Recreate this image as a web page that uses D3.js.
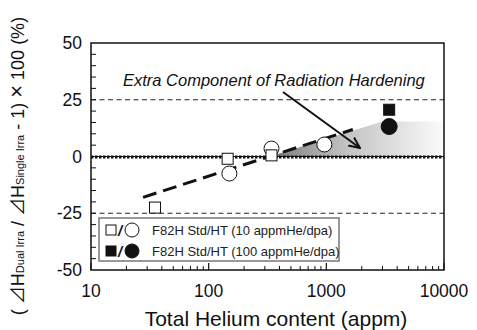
<!DOCTYPE html>
<html>
<head>
<meta charset="utf-8">
<script src="https://cdn.jsdelivr.net/npm/d3@7"></script>
<style>
  body { margin: 0; background: #fff; }
  text { font-family: "Liberation Sans", Arial, sans-serif; fill: #111; }
</style>
</head>
<body>
<script>
// data (x = total He content, appm; y = %)
var stdX = [35, 145, 342];          // open squares, Std, 10 appmHe/dpa
var stdY = [-22.5, -1, 0.5];
var htX = [150, 342, 962];          // open circles, HT, 10 appmHe/dpa
var htY = [-7.5, 3.5, 5.3];
var std100X = [3420];               // filled square, 100 appmHe/dpa
var std100Y = [20.6];
var ht100X = [3420];                // filled circle
var ht100Y = [13.2];
var fitX = [27.7, 1680];            // dashed trend line
var fitY = [-18, 11.9];
var shadeX = [328, 2990, 10000, 10000];   // grey "extra component" wedge
var shadeY = [0, 15.4, 15.4, 0];
var yTicks = [-50, -25, 0, 25, 50];
var xTicks = [10, 100, 1000, 10000];
var legendLabels = ['F82H Std/HT (10 appmHe/dpa)', 'F82H Std/HT (100 appmHe/dpa)'];

var W = 477, H = 330;
var m = {left: 91, right: 33, top: 43, bottom: 60};
var iw = W - m.left - m.right, ih = H - m.top - m.bottom;

var svg = d3.select('body').append('svg')
  .attr('width', W).attr('height', H);

var defs = svg.append('defs');
var grad = defs.append('linearGradient').attr('id', 'shade')
  .attr('x1', '0%').attr('x2', '100%').attr('y1', '0%').attr('y2', '0%');
grad.append('stop').attr('offset', '0%').attr('stop-color', '#7a7a7a');
grad.append('stop').attr('offset', '45%').attr('stop-color', '#c4c4c4');
grad.append('stop').attr('offset', '100%').attr('stop-color', '#fbfbfb');

defs.append('marker').attr('id', 'arr')
  .attr('viewBox', '0 0 12 12').attr('refX', 11).attr('refY', 6)
  .attr('markerWidth', 12).attr('markerHeight', 12)
  .attr('markerUnits', 'userSpaceOnUse')
  .attr('orient', 'auto')
  .append('path').attr('d', 'M0,1 L11,6 L0,11')
  .attr('fill', 'none').attr('stroke', '#111').attr('stroke-width', 2);

var g = svg.append('g').attr('transform', 'translate(' + m.left + ',' + m.top + ')');

var x = d3.scaleLog().domain([10, 10000]).range([0, iw]);
var y = d3.scaleLinear().domain([-50, 50]).range([ih, 0]);

// shaded wedge
var shade = d3.zip(shadeX, shadeY);
g.append('path')
  .attr('d', d3.line().x(function(d) { return x(d[0]); }).y(function(d) { return y(d[1]); })(shade) + 'Z')
  .attr('fill', 'url(#shade)');

// +/-25 dashed reference lines
[25, -25].forEach(function(v) {
  g.append('line').attr('x1', 0).attr('x2', iw).attr('y1', y(v)).attr('y2', y(v))
    .attr('stroke', '#222').attr('stroke-width', 1).attr('stroke-dasharray', '5,3.5');
});

// zero line (dotted, heavy)
g.append('line').attr('x1', 0).attr('x2', iw).attr('y1', y(0)).attr('y2', y(0))
  .attr('stroke', '#111').attr('stroke-width', 1);
g.append('line').attr('x1', 0).attr('x2', iw).attr('y1', y(0) + 0.5).attr('y2', y(0) + 0.5)
  .attr('stroke', '#111').attr('stroke-width', 3).attr('stroke-dasharray', '2.5,1.5');

// trend line
g.append('path')
  .attr('d', d3.line().x(function(d) { return x(d[0]); }).y(function(d) { return y(d[1]); })(d3.zip(fitX, fitY)))
  .attr('stroke', '#111').attr('stroke-width', 3).attr('fill', 'none')
  .attr('stroke-dasharray', '14,7');

// axes ticks (inward)
var xMinor = [];
for (var dec = 10; dec < 10000; dec *= 10) for (var k = 2; k <= 9; k++) xMinor.push(dec * k);
g.selectAll('.xminor').data(xMinor).enter().append('line')
  .attr('x1', function(d) { return x(d); }).attr('x2', function(d) { return x(d); })
  .attr('y1', ih).attr('y2', ih - 4).attr('stroke', '#111').attr('stroke-width', 1);
g.selectAll('.xmajor').data(xTicks).enter().append('line')
  .attr('x1', function(d) { return x(d); }).attr('x2', function(d) { return x(d); })
  .attr('y1', ih).attr('y2', ih - 7).attr('stroke', '#111').attr('stroke-width', 1.2);
g.selectAll('.xlab').data(xTicks).enter().append('text')
  .attr('x', function(d) { return x(d); }).attr('y', ih + 27)
  .attr('text-anchor', 'middle').style('font-size', '17.5px').text(function(d) { return d; });

var yMinor = d3.range(-45, 50, 5);
g.selectAll('.ytick').data(yMinor).enter().append('line')
  .attr('x1', 0).attr('x2', 5).attr('y1', function(d) { return y(d); }).attr('y2', function(d) { return y(d); })
  .attr('stroke', '#111').attr('stroke-width', 1);
g.selectAll('.ylab').data(yTicks).enter().append('text')
  .attr('x', -9).attr('y', function(d) { return y(d) + 6; })
  .attr('text-anchor', 'end').style('font-size', '17.5px').text(function(d) { return d; });

// points
function sq(xs, ys, size, fill) {
  g.selectAll(null).data(d3.zip(xs, ys)).enter().append('rect')
    .attr('x', function(d) { return x(d[0]) - size / 2; })
    .attr('y', function(d) { return y(d[1]) - size / 2; })
    .attr('width', size).attr('height', size)
    .attr('fill', fill).attr('stroke', '#111').attr('stroke-width', 1);
}
function circ(xs, ys, r, fill) {
  g.selectAll(null).data(d3.zip(xs, ys)).enter().append('circle')
    .attr('cx', function(d) { return x(d[0]); })
    .attr('cy', function(d) { return y(d[1]); })
    .attr('r', r).attr('fill', fill).attr('stroke', '#111').attr('stroke-width', 1);
}
circ(htX, htY, 7.5, '#fff');
sq(stdX, stdY, 11, '#fff');
sq(std100X, std100Y, 11, '#111');
circ(ht100X, ht100Y, 8, '#111');

// annotation
g.append('text').attr('x', 123 - m.left).attr('y', 86 - m.top)
  .style('font-size', '16.5px').style('font-style', 'italic')
  .text('Extra Component of Radiation Hardening');
g.append('line').attr('x1', 283 - m.left).attr('y1', 92 - m.top)
  .attr('x2', 360 - m.left).attr('y2', 148 - m.top)
  .attr('stroke', '#111').attr('stroke-width', 2).attr('marker-end', 'url(#arr)');

// legend
var lg = g.append('g').attr('transform', 'translate(' + (99 - m.left) + ',' + (218 - m.top) + ')');
lg.append('rect').attr('width', 240).attr('height', 43)
  .attr('fill', '#fff').attr('stroke', '#777').attr('stroke-width', 1.5);
legendLabels.forEach(function(lab, i) {
  var cy = 12 + i * 21;
  var fill = i === 0 ? '#fff' : '#111';
  lg.append('rect').attr('x', 7).attr('y', cy - 5).attr('width', 10).attr('height', 10)
    .attr('fill', fill).attr('stroke', '#111').attr('stroke-width', 1);
  lg.append('text').attr('x', 19).attr('y', cy + 6).style('font-size', '15px')
    .style('font-weight', 'bold').style('font-style', 'italic').text('/');
  lg.append('circle').attr('cx', 33).attr('cy', cy).attr('r', 7)
    .attr('fill', fill).attr('stroke', '#111').attr('stroke-width', 1);
  lg.append('text').attr('x', 53).attr('y', cy + 5).style('font-size', '13px')
    .style('fill', '#222').text(lab);
});

// frame
g.append('rect').attr('width', iw).attr('height', ih)
  .attr('fill', 'none').attr('stroke', '#111').attr('stroke-width', 1.5);

// axis titles
svg.append('text').attr('x', 276).attr('y', 326)
  .attr('text-anchor', 'middle').style('font-size', '21px')
  .text('Total  Helium content (appm)');

var yt = svg.append('text')
  .attr('transform', 'translate(24,166) rotate(-90)')
  .attr('text-anchor', 'middle').style('font-size', '18px');
yt.append('tspan').text('( ');
yt.append('tspan').style('font-family', '"Noto Sans CJK JP"').text('⊿');
yt.append('tspan').text('H');
yt.append('tspan').style('font-size', '11px').text('Dual Irra');
yt.append('tspan').text(' / ');
yt.append('tspan').style('font-family', '"Noto Sans CJK JP"').text('⊿');
yt.append('tspan').text('H');
yt.append('tspan').style('font-size', '11px').text('Single Irra');
yt.append('tspan').text(' - 1) ');
yt.append('tspan').style('font-size', '22px').text('×');
yt.append('tspan').text(' 100 (%)');
</script>
</body>
</html>
